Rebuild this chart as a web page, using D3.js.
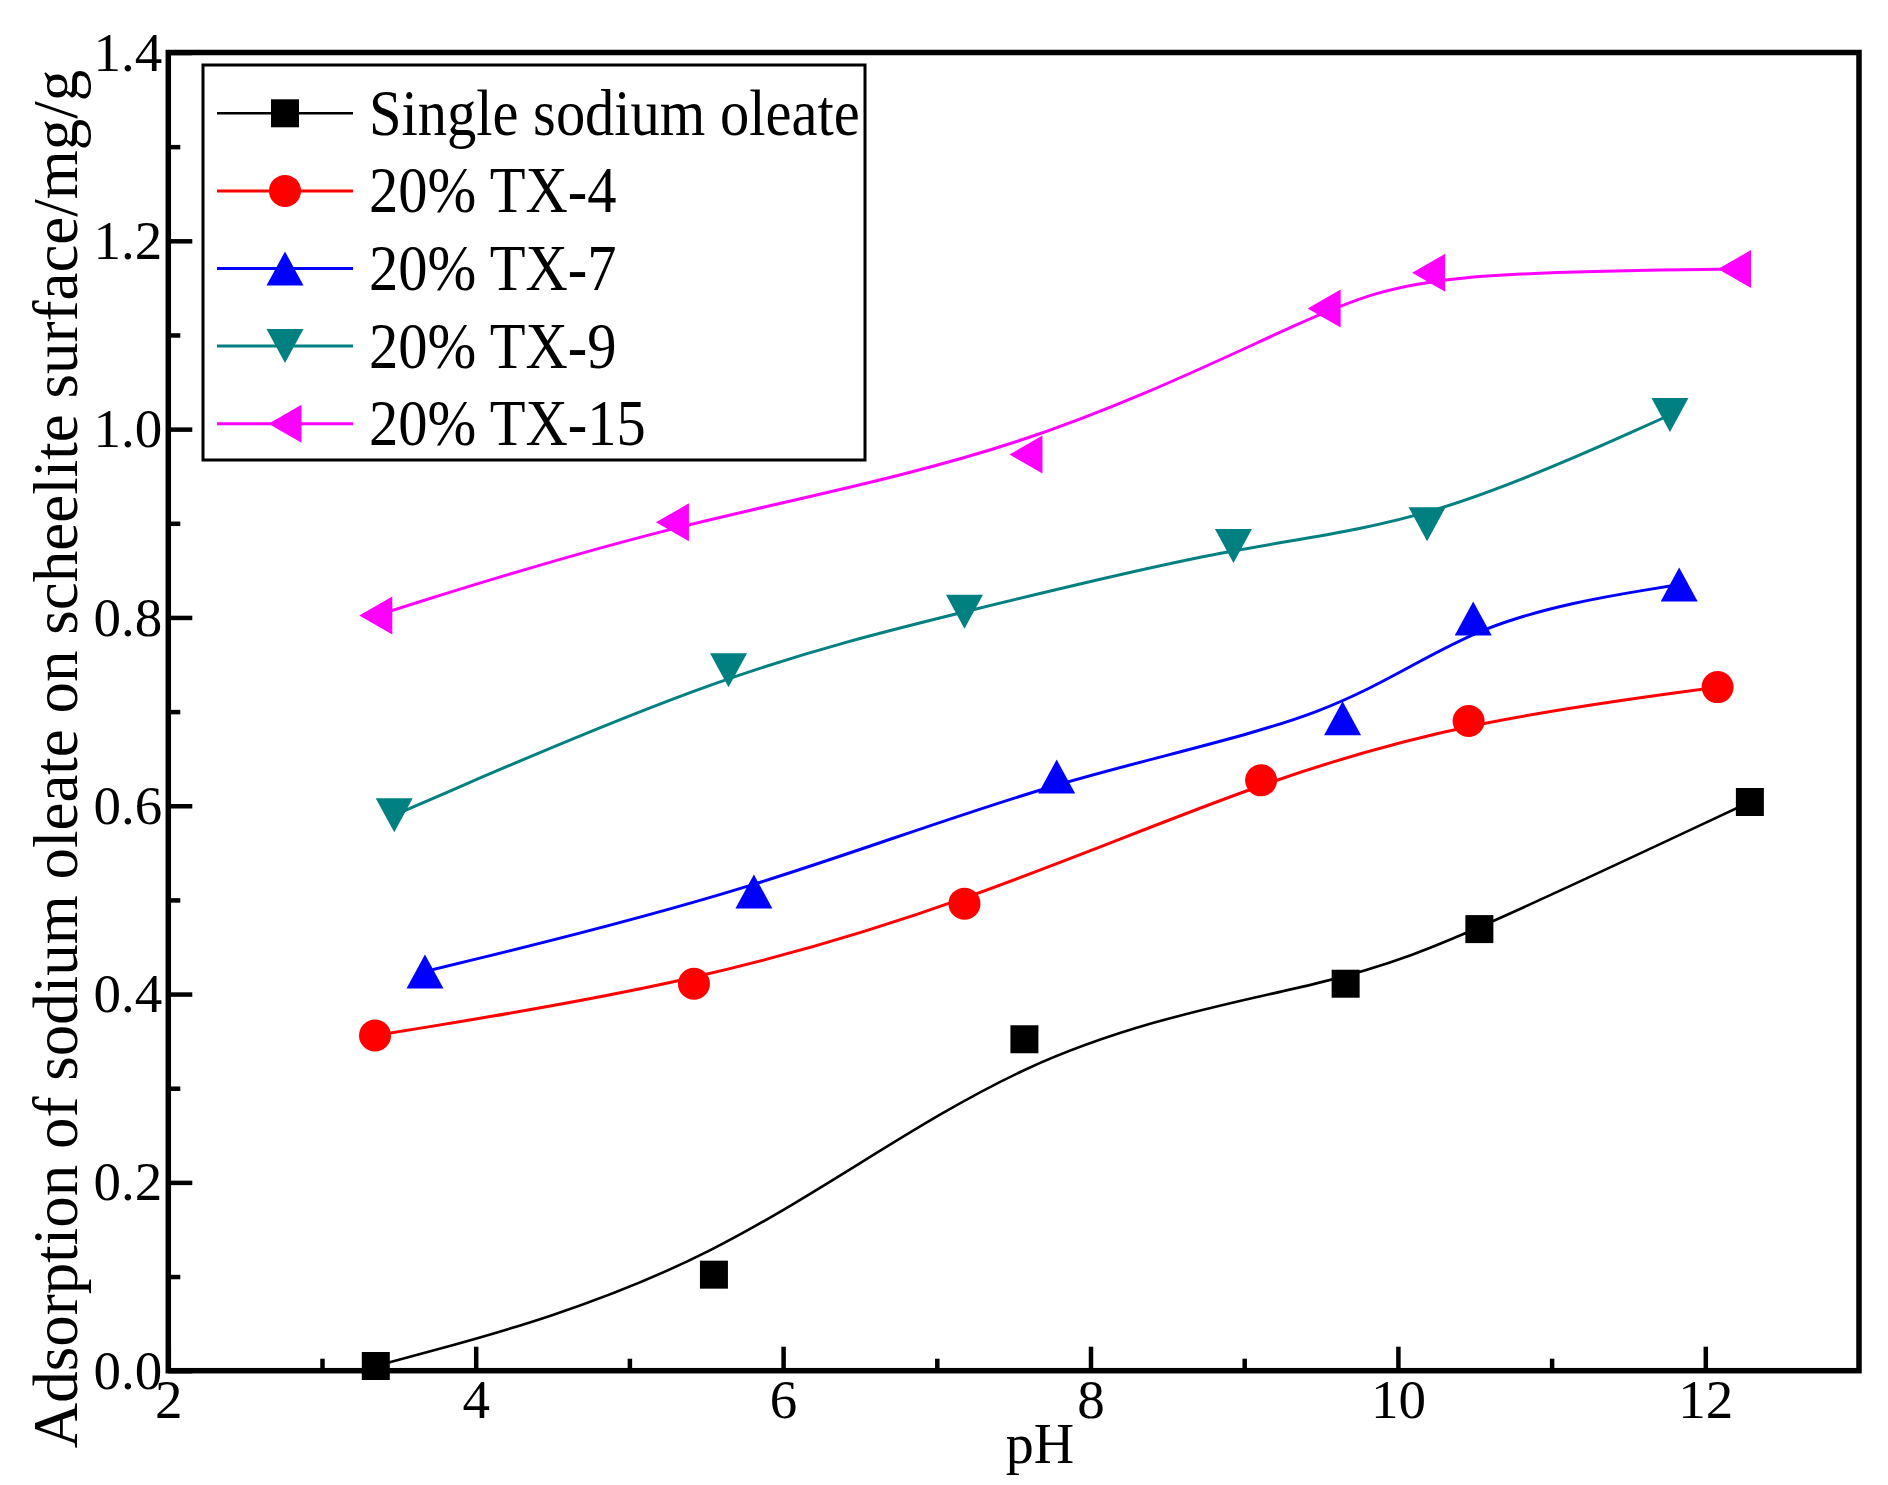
<!DOCTYPE html>
<html>
<head>
<meta charset="utf-8">
<script src="https://cdn.jsdelivr.net/npm/d3@7"></script>
<style>
  body { margin: 0; background: #fff; }
  text { font-family: 'Liberation Serif', 'Times New Roman', serif; }
</style>
</head>
<body>
<script>
const width = 1888
const height = 1485
const margin = { top: 52.5, right: 29, bottom: 114.3, left: 168.3 }
const w = width - margin.left - margin.right
const h = height - margin.top - margin.bottom

// data

const series_names = ['Single sodium oleate', '20% TX-4', '20% TX-7', '20% TX-9', '20% TX-15']

const ph_single = [3.35, 5.55, 7.57, 9.66, 10.53, 12.29]
const ads_single = [0.005, 0.102, 0.352, 0.411, 0.469, 0.604]

const ph_tx4 = [3.345, 5.42, 7.18, 9.11, 10.46, 12.08]
const ads_tx4 = [0.356, 0.411, 0.496, 0.627, 0.690, 0.726]

const ph_tx7 = [3.67, 5.81, 7.78, 9.64, 10.49, 11.83]
const ads_tx7 = [0.424, 0.509, 0.631, 0.693, 0.799, 0.835]

const ph_tx9 = [3.47, 5.645, 7.18, 8.93, 10.19, 11.77]
const ads_tx9 = [0.590, 0.744, 0.806, 0.876, 0.899, 1.015]

const ph_tx15 = [3.35, 5.28, 7.58, 9.52, 10.20, 12.19]
const ads_tx15 = [0.802, 0.901, 0.973, 1.128, 1.166, 1.170]

const x_ticks = [2, 4, 6, 8, 10, 12]
const x_minor = [3, 5, 7, 9, 11]
const y_ticks = [0, 0.2, 0.4, 0.6, 0.8, 1.0, 1.2, 1.4]
const y_minor = [0.1, 0.3, 0.5, 0.7, 0.9, 1.1, 1.3]

const series = [
  { name: series_names[0], ph: ph_single, ads: ads_single },
  { name: series_names[1], ph: ph_tx4, ads: ads_tx4 },
  { name: series_names[2], ph: ph_tx7, ads: ads_tx7 },
  { name: series_names[3], ph: ph_tx9, ads: ads_tx9 },
  { name: series_names[4], ph: ph_tx15, ads: ads_tx15 }
]

// styles

const colors = ['#000000', '#ff0000', '#0000ff', '#008080', '#ff00ff']
const line_widths = [2.6, 3, 3, 3, 3]

const markers = [
  d3.symbol().type(d3.symbolSquare).size(28 * 28)(),
  d3.symbol().type(d3.symbolCircle).size(Math.PI * 16 * 16)(),
  'M0,-17L18.5,17L-18.5,17Z',
  'M0,17L18.5,-17L-18.5,-17Z',
  'M-16.5,0L16.5,-19L16.5,19Z'
]

const x = d3.scaleLinear()
  .domain([2, 13])
  .range([0, w])

const y = d3.scaleLinear()
  .domain([0, 1.4])
  .range([h, 0])

const line = d3.line()
  .x((d) => x(d[0]))
  .y((d) => y(d[1]))
  .curve(d3.curveBasis)

let svg = d3.select('body')
  .append('svg')
    .attr('width', width)
    .attr('height', height)

svg.append('rect')
  .attr('width', width)
  .attr('height', height)
  .attr('fill', '#fff')

let plot = svg.append('g')
  .attr('transform', 'translate(' + [margin.left, margin.top] + ')')

// curves and markers

series.forEach((s, i) => {
  const pts = s.ph.map((p, j) => [p, s.ads[j]])
  plot.append('path')
    .attr('d', line(pts))
    .attr('fill', 'none')
    .attr('stroke', colors[i])
    .attr('stroke-width', line_widths[i])
  plot.append('g')
    .selectAll('path')
    .data(pts)
    .join('path')
      .attr('d', markers[i])
      .attr('transform', (d) => 'translate(' + [x(d[0]), y(d[1])] + ')')
      .attr('fill', colors[i])
})

// axes

const style_axis = (g, size) => {
  g.select('.domain').remove()
  g.attr('font-family', null).attr('font-size', size)
  g.selectAll('.tick line').attr('stroke', '#000').attr('stroke-width', 4.5)
  g.selectAll('.tick text').attr('fill', '#000')
}

plot.append('g')
  .call(d3.axisLeft(y).tickValues(y_minor).tickSize(-12).tickFormat(''))
  .call((g) => style_axis(g, 55))

plot.append('g')
  .call(d3.axisLeft(y).tickValues(y_ticks).tickSize(-24).tickPadding(6).tickFormat(d3.format('.1f')))
  .call((g) => style_axis(g, 55))

plot.append('g')
  .attr('transform', 'translate(0,' + h + ')')
  .call(d3.axisBottom(x).tickValues(x_minor).tickSize(-12).tickFormat(''))
  .call((g) => style_axis(g, 55))

plot.append('g')
  .attr('transform', 'translate(0,' + h + ')')
  .call(d3.axisBottom(x).tickValues(x_ticks).tickSize(-24).tickPadding(8).tickFormat(d3.format('d')))
  .call((g) => style_axis(g, 55))

plot.append('rect')
  .attr('width', w)
  .attr('height', h)
  .attr('fill', 'none')
  .attr('stroke', '#000')
  .attr('stroke-width', 5.5)

// axis titles

svg.append('text')
  .attr('x', 1040)
  .attr('y', 1463)
  .attr('text-anchor', 'middle')
  .attr('font-size', 56)
  .text('pH')

svg.append('text')
  .attr('transform', 'translate(77,759)rotate(-90)')
  .attr('text-anchor', 'middle')
  .attr('font-size', 63)
  .text('Adsorption of sodium oleate on scheelite surface/mg/g')

// legend

let legend = svg.append('g')
  .attr('transform', 'translate(203,65)')

legend.append('rect')
  .attr('width', 662)
  .attr('height', 395)
  .attr('fill', '#fff')
  .attr('stroke', '#000')
  .attr('stroke-width', 3)

series.forEach((s, i) => {
  let row = legend.append('g')
    .attr('transform', 'translate(0,' + (48.3 + i * 77.6) + ')')
  row.append('path')
    .attr('d', 'M14,0H150')
    .attr('stroke', colors[i])
    .attr('stroke-width', line_widths[i])
  row.append('path')
    .attr('d', markers[i])
    .attr('transform', 'translate(82,0)')
    .attr('fill', colors[i])
  row.append('text')
    .attr('transform', 'translate(166,21.5)scale(0.9,1)')
    .attr('font-size', 65)
    .text(s.name)
})
</script>
</body>
</html>
